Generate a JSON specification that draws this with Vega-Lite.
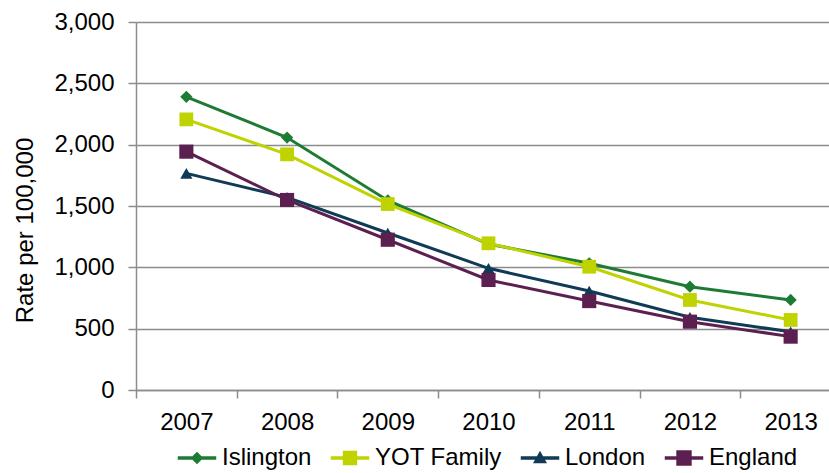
{
  "$schema": "https://vega.github.io/schema/vega-lite/v6.json",
  "autosize": "none",
  "width": 693,
  "height": 368,
  "padding": {"left": 136, "top": 22, "right": 0, "bottom": 83},
  "background": "white",
  "config": {
    "font": "Liberation Sans",
    "view": {"stroke": null},
    "axis": {"labelFont": "Liberation Sans", "titleFont": "Liberation Sans", "labelColor": "#000000", "titleColor": "#000000", "domainColor": "#8c8c8c", "tickColor": "#8c8c8c", "domainWidth": 1.5, "tickWidth": 1.5, "gridColor": "#8c8c8c", "gridWidth": 1.5}
  },
  "data": {
    "values": [
      {"year": "2007", "series": "Islington", "rate": 2390},
      {"year": "2008", "series": "Islington", "rate": 2058},
      {"year": "2009", "series": "Islington", "rate": 1545},
      {"year": "2010", "series": "Islington", "rate": 1190},
      {"year": "2011", "series": "Islington", "rate": 1033},
      {"year": "2012", "series": "Islington", "rate": 842},
      {"year": "2013", "series": "Islington", "rate": 734},
      {"year": "2007", "series": "YOT Family", "rate": 2206},
      {"year": "2008", "series": "YOT Family", "rate": 1921},
      {"year": "2009", "series": "YOT Family", "rate": 1516},
      {"year": "2010", "series": "YOT Family", "rate": 1196},
      {"year": "2011", "series": "YOT Family", "rate": 1005},
      {"year": "2012", "series": "YOT Family", "rate": 734},
      {"year": "2013", "series": "YOT Family", "rate": 571},
      {"year": "2007", "series": "London", "rate": 1766},
      {"year": "2008", "series": "London", "rate": 1570},
      {"year": "2009", "series": "London", "rate": 1280},
      {"year": "2010", "series": "London", "rate": 992},
      {"year": "2011", "series": "London", "rate": 807},
      {"year": "2012", "series": "London", "rate": 593},
      {"year": "2013", "series": "London", "rate": 475},
      {"year": "2007", "series": "England", "rate": 1943},
      {"year": "2008", "series": "England", "rate": 1549},
      {"year": "2009", "series": "England", "rate": 1225},
      {"year": "2010", "series": "England", "rate": 897},
      {"year": "2011", "series": "England", "rate": 725},
      {"year": "2012", "series": "England", "rate": 557},
      {"year": "2013", "series": "England", "rate": 435}
    ]
  },
  "encoding": {
    "x": {"field": "year", "type": "ordinal", "bandPosition": 0.5,
      "scale": {"type": "band", "paddingInner": 0, "paddingOuter": 0, "range": [0, 705]},
      "axis": {"title": null, "labelAngle": 0, "labelFontSize": 24, "tickBand": "extent", "tickSize": 8, "labelPadding": 12, "grid": false}},
    "y": {"field": "rate", "type": "quantitative",
      "scale": {"domain": [0, 3000], "nice": false},
      "axis": {"title": "Rate per 100,000", "values": [0, 500, 1000, 1500, 2000, 2500, 3000], "format": ",d", "labelFontSize": 24, "titleFontSize": 24, "titleFontWeight": "normal", "tickSize": 8, "labelPadding": 14, "grid": true, "titleX": -111, "titleY": 208, "titleAngle": 270, "titleBaseline": "middle", "titleAlign": "center"}}
  },
  "layer": [
    {
      "mark": {"type": "line", "strokeWidth": 3},
      "encoding": {
        "color": {"field": "series", "type": "nominal",
          "scale": {"domain": ["Islington", "YOT Family", "London", "England"], "range": ["#1e7b34", "#bfd300", "#0f3b57", "#5c2050"]},
          "legend": {"title": null, "orient": "none", "direction": "horizontal", "legendX": 49, "legendY": 424, "padding": 0, "labelFontSize": 24, "labelFont": "Liberation Sans", "labelColor": "#000000", "labelOffset": 13, "columnPadding": 18, "symbolSize": 306, "symbolStrokeWidth": 0,
            "encode": {"symbols": {"update": {
              "shape": {"signal": "datum.value === 'Islington' ? 'M-2.2,-0.19H2.2V0.19H-2.2Z M0,-0.72L0.72,0L0,0.72L-0.72,0Z' : datum.value === 'London' ? 'M-2.2,-0.19H2.2V0.19H-2.2Z M0,-0.82L0.8,0.6H-0.8Z' : datum.value === 'England' ? 'M-2.2,-0.19H2.2V0.19H-2.2Z M-0.88,-0.88H0.88V0.88H-0.88Z' : 'M-2.2,-0.19H2.2V0.19H-2.2Z M-0.82,-0.82H0.82V0.82H-0.82Z'"},
              "fill": {"scale": "color", "field": "value"},
              "fillOpacity": {"value": 1},
              "strokeWidth": {"value": 0},
              "size": {"value": 306}
            }}}}}
      }
    },
    {
      "transform": [{"filter": "datum.series == 'Islington'"}],
      "mark": {"type": "point", "shape": "diamond", "filled": true, "opacity": 1, "size": 150, "color": "#1e7b34"}
    },
    {
      "transform": [{"filter": "datum.series == 'YOT Family'"}],
      "mark": {"type": "point", "shape": "square", "filled": true, "opacity": 1, "size": 190, "color": "#bfd300"}
    },
    {
      "transform": [{"filter": "datum.series == 'London'"}],
      "mark": {"type": "point", "shape": "triangle-up", "filled": true, "opacity": 1, "size": 150, "color": "#0f3b57"}
    },
    {
      "transform": [{"filter": "datum.series == 'England'"}],
      "mark": {"type": "point", "shape": "square", "filled": true, "opacity": 1, "size": 200, "color": "#5c2050"}
    }
  ]
}
